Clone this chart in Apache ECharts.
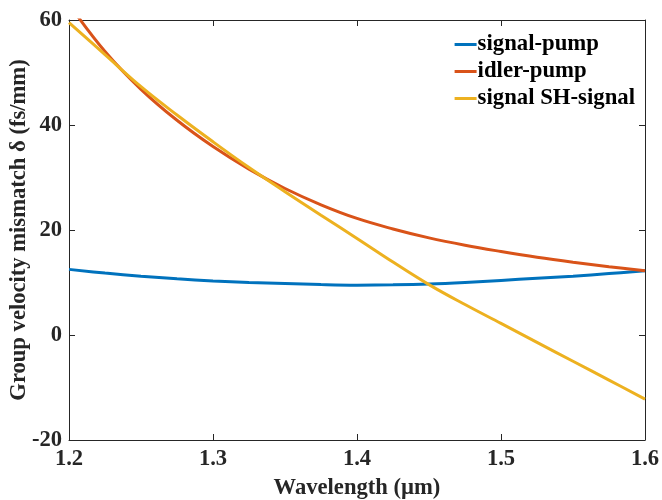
<!DOCTYPE html>
<html>
<head>
<meta charset="utf-8">
<script src="https://cdn.jsdelivr.net/npm/echarts@6/dist/echarts.min.js"></script>
<style>html,body{margin:0;padding:0;background:#fff}#c{width:662px;height:500px}</style>
</head>
<body>
<div id="c"></div>
<script>
const wavelengths = [1.2, 1.225, 1.25, 1.275, 1.3, 1.325, 1.35, 1.375, 1.4, 1.425, 1.45, 1.475, 1.5, 1.525, 1.55, 1.575, 1.6];
const signalPump = [12.5, 11.8, 11.2, 10.7, 10.3, 10.0, 9.8, 9.6, 9.5, 9.55, 9.7, 10.0, 10.4, 10.8, 11.2, 11.7, 12.25];
const idlerPump = [63.0, 54.0, 46.8, 40.9, 35.9, 31.6, 27.9, 24.8, 22.2, 20.2, 18.5, 17.1, 15.9, 14.8, 13.85, 13.0, 12.25];
const signalSH = [59.5, 53.4, 47.3, 41.9, 36.8, 31.9, 27.3, 22.8, 18.4, 13.9, 9.6, 5.8, 2.2, -1.4, -5.0, -8.6, -12.2];
const seriesNames = ['signal-pump', 'idler-pump', 'signal SH-signal'];
const colors = ['#0072BD', '#D95319', '#EDB120'];

const font = 'Liberation Serif';
const fs = 22.6;
const axisColor = '#262626';
const pair = arr => wavelengths.map((w, i) => [w, arr[i]]);

const chart = echarts.init(document.getElementById('c'));
const mk = (name, arr, color) => ({
  name, type: 'line', data: pair(arr), smooth: 0.4, showSymbol: false, symbol: 'none',
  lineStyle: { width: 3, color }, itemStyle: { color }, clip: true, xAxisIndex: 0, yAxisIndex: 0
});
chart.setOption({
  animation: false,
  grid: { left: 69, right: 17, top: 20, bottom: 60, containLabel: false, outerBoundsMode: 'none' },
  legend: {
    orient: 'vertical', right: 22, top: 28, itemWidth: 22, itemHeight: 3, itemGap: 4,
    icon: 'rect',
    textStyle: { fontFamily: font, fontWeight: 'bold', fontSize: 22.75, lineHeight: 22.5, color: '#000', padding: [0, 0, 0, -4] },
    data: seriesNames
  },
  xAxis: [{
    type: 'value', min: 1.2, max: 1.6, interval: 0.1,
    name: 'Wavelength (µm)', nameLocation: 'middle', nameGap: 37, nameMoveOverlap: false,
    nameTextStyle: { fontFamily: font, fontWeight: 'bold', fontSize: fs, color: axisColor },
    axisLine: { onZero: false, lineStyle: { color: axisColor, width: 1 } },
    axisTick: { inside: true, length: 6, lineStyle: { color: axisColor } },
    axisLabel: { fontFamily: font, fontWeight: 'bold', fontSize: fs, color: axisColor, margin: 8,
      formatter: v => v.toFixed(1) },
    splitLine: { show: false }
  }, {
    type: 'value', position: 'top', min: 1.2, max: 1.6, interval: 0.1,
    axisLine: { onZero: false, lineStyle: { color: axisColor, width: 1 } },
    axisTick: { inside: true, length: 6, lineStyle: { color: axisColor } },
    axisLabel: { show: false }, splitLine: { show: false }
  }],
  yAxis: [{
    type: 'value', min: -20, max: 60, interval: 20,
    name: 'Group velocity mismatch δ (fs/mm)', nameLocation: 'middle', nameGap: 38, nameMoveOverlap: false,
    nameTextStyle: { fontFamily: font, fontWeight: 'bold', fontSize: fs, color: axisColor },
    axisLine: { show: true, onZero: false, lineStyle: { color: axisColor, width: 1 } },
    axisTick: { show: true, inside: true, length: 6, lineStyle: { color: axisColor } },
    axisLabel: { fontFamily: font, fontWeight: 'bold', fontSize: fs, color: axisColor, margin: 7 },
    splitLine: { show: false }
  }, {
    type: 'value', position: 'right', min: -20, max: 60, interval: 20,
    axisLine: { show: true, onZero: false, lineStyle: { color: axisColor, width: 1 } },
    axisTick: { show: true, inside: true, length: 6, lineStyle: { color: axisColor } },
    axisLabel: { show: false }, splitLine: { show: false }
  }],
  series: [
    mk(seriesNames[0], signalPump, colors[0]),
    mk(seriesNames[1], idlerPump, colors[1]),
    mk(seriesNames[2], signalSH, colors[2])
  ]
});
</script>
</body>
</html>
